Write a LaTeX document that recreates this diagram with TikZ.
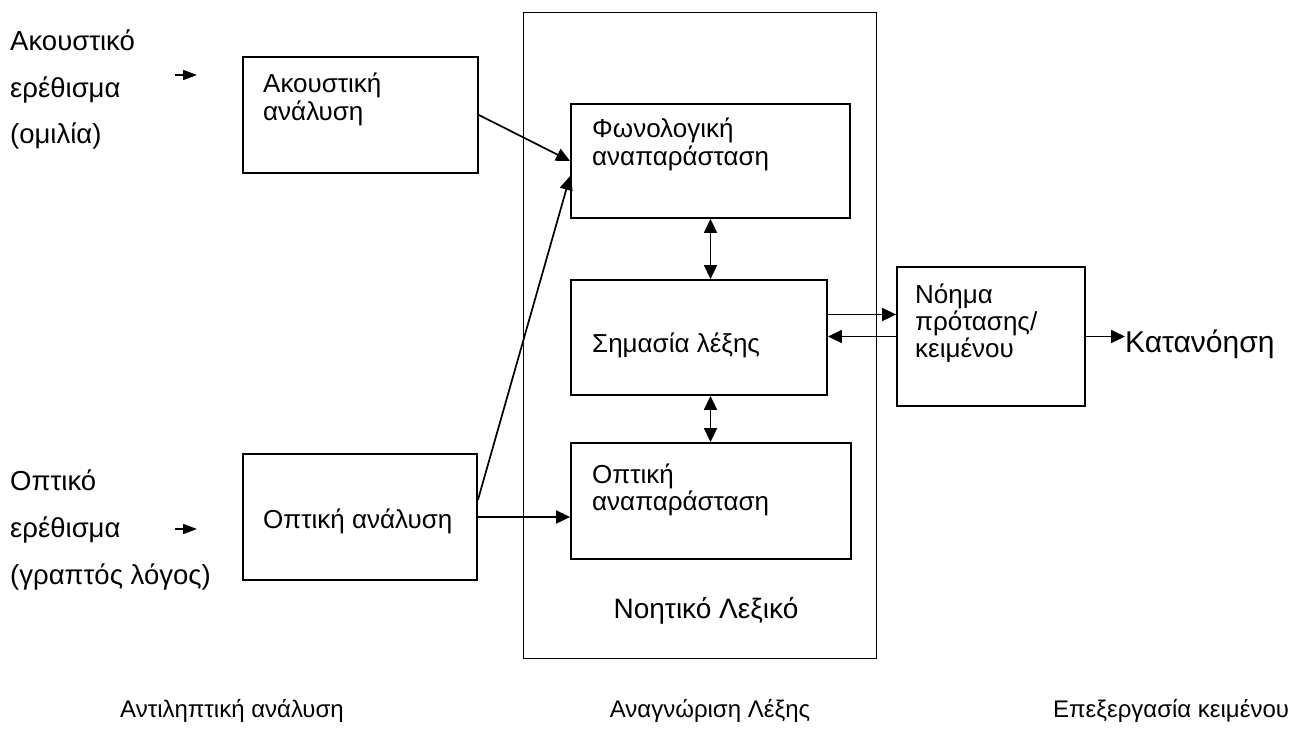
\documentclass[tikz,border=0pt]{standalone}
\usepackage{fontspec}
\setmainfont{Liberation Sans}
\usetikzlibrary{arrows.meta,calc}
\begin{document}
\begin{tikzpicture}[x=1pt,y=-1pt,
  box/.style={draw, line width=1.8pt, inner sep=0pt},
  lbl/.style={inner sep=0pt, anchor=base west, font=\fontsize{26}{30}\selectfont},
  side/.style={lbl, font=\fontsize{27.5}{32}\selectfont},
  stage/.style={inner sep=0pt, anchor=base, font=\fontsize{24}{28}\selectfont},
  arr/.style={line width=1.7pt, -{Triangle[length=14pt,width=13pt]}},
  darr/.style={line width=1.7pt, {Triangle[length=14pt,width=13pt]}-{Triangle[length=14pt,width=13pt]}},
  inarr/.style={line width=1.7pt, -{Triangle[length=14pt,width=10pt]}},
]
\useasboundingbox (0,0) rectangle (1292,745);

% mental lexicon frame
\node[draw, line width=1pt, inner sep=0pt, minimum width=353pt, minimum height=646pt] (lex) at (699.5,335) {};

% processing boxes
\node[box, minimum width=235pt, minimum height=116pt] (ac) at (360.5,115) {};
\node[box, minimum width=234pt, minimum height=126pt] (opt) at (360,517) {};
\node[box, minimum width=279pt, minimum height=114pt] (fon) at (710.5,161) {};
\node[box, minimum width=256pt, minimum height=115pt] (sem) at (699,337.5) {};
\node[box, minimum width=280pt, minimum height=116pt] (orep) at (711,501) {};
\node[box, minimum width=188pt, minimum height=139pt] (noima) at (991,336.5) {};

% texts inside the boxes
\node[lbl] (ac1) at (263,92) {Ακουστική};
\node[lbl] (ac2) at (263,120) {ανάλυση};
\node[lbl] (opt1) at (263,528) {Οπτική ανάλυση};
\node[lbl] (fon1) at (592,137) {Φωνολογική};
\node[lbl] (fon2) at (592,165) {αναπαράσταση};
\node[lbl] (sem1) at (592,352) {Σημασία λέξης};
\node[lbl] (orep1) at (592,483) {Οπτική};
\node[lbl] (orep2) at (592,510) {αναπαράσταση};
\node[lbl] (no1) at (915,303) {Νόημα};
\node[lbl] (no2) at (915,330) {πρότασης/};
\node[lbl] (no3) at (915,357) {κειμένου};
\node[lbl, anchor=base, font=\fontsize{28}{32}\selectfont] (lexlbl) at (706,618) {Νοητικό Λεξικό};

% stimuli
\node[side] (s1a) at (10,50) {Ακουστικό};
\node[side] (s1b) at (10,97) {ερέθισμα};
\node[side] (s1c) at (10,143) {(ομιλία)};
\node[side] (s2a) at (10,490) {Οπτικό};
\node[side] (s2b) at (10,537) {ερέθισμα};
\node[side] (s2c) at (10,584) {(γραπτός λόγος)};

% outcome
\node[lbl, font=\fontsize{30}{34}\selectfont] (kat) at (1125,352) {Κατανόηση};

% stage captions
\node[stage] (st1) at (232,717) {Αντιληπτική ανάλυση};
\node[stage] (st2) at (710,717) {Αναγνώριση Λέξης};
\node[stage] (st3) at (1171,717) {Επεξεργασία κειμένου};

% input arrows
\coordinate (in1) at (175,75);
\coordinate (in1e) at (197,75);
\coordinate (in2) at (175,529);
\coordinate (in2e) at (197,529);
\draw[inarr] (in1) -- (in1e);
\draw[inarr] (in2) -- (in2e);

% connectors
\draw[arr] (ac.east) -- (fon.west);
\draw[arr] ($(opt.east)+(0,-17)$) -- ($(fon.west)+(0,15)$);
\draw[arr] (opt.east) -- (opt.east -| orep.west);
\draw[darr] (fon.south) -- (fon.south |- sem.north);
\draw[darr] (sem.south -| fon.south) -- (orep.north -| fon.south);
\coordinate (sx) at ($(sem.east)+(0,-23)$);
\draw[arr] (sx) -- (sx -| noima.west);
\draw[arr] (noima.west) -- (noima.west -| sem.east);
\draw[arr] (noima.east) -- (noima.east -| kat.west);
\end{tikzpicture}
\end{document}
